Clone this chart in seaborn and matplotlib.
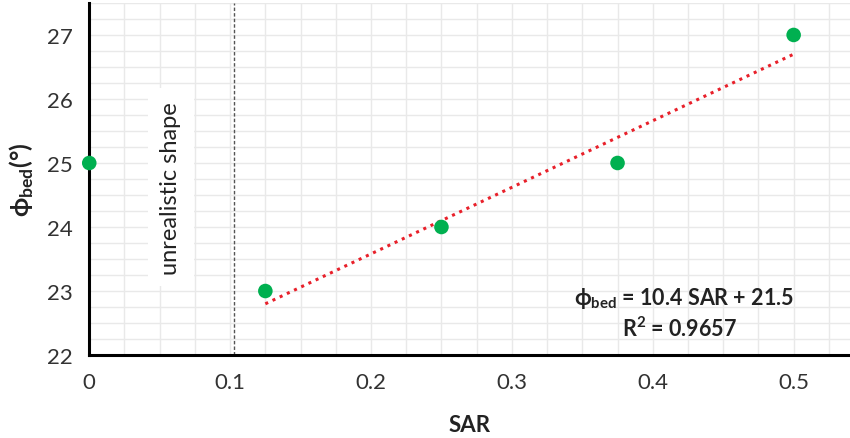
import numpy as np
import pandas as pd
import seaborn as sns
import matplotlib.pyplot as plt
from matplotlib.ticker import MultipleLocator

# data
sar = [0, 0.125, 0.25, 0.375, 0.5]
phi_bed = [25, 23, 24, 25, 27]
x_ticks = [0, 0.1, 0.2, 0.3, 0.4, 0.5]
x_tick_labels = ["0", "0.1", "0.2", "0.3", "0.4", "0.5"]
y_ticks = [22, 23, 24, 25, 26, 27]
limit_sar = 0.103

df = pd.DataFrame({"SAR": sar, "phi": phi_bed})
fit_df = df[df["SAR"] > limit_sar]

sns.set_style("white")
plt.rcParams["font.family"] = ["Lato", "DejaVu Sans"]
plt.rcParams["mathtext.fontset"] = "custom"
plt.rcParams["mathtext.rm"] = "Lato"
plt.rcParams["mathtext.bf"] = "Lato:bold"

fig = plt.figure(figsize=(8.5, 4.39), dpi=100)
ax = fig.add_axes([0.105, 0.189, 0.895, 0.802])

# grid
ax.xaxis.set_minor_locator(MultipleLocator(0.025))
ax.yaxis.set_minor_locator(MultipleLocator(0.25))
ax.grid(which="both", color="#e9e9e9", linewidth=1.0)
ax.set_axisbelow(True)

# trend line over the realistic points
sns.regplot(data=fit_df, x="SAR", y="phi", ax=ax, scatter=False, ci=None,
            line_kws={"color": "#e8202a", "linestyle": (0, (1, 1.6)), "linewidth": 2.2})

# points
sns.scatterplot(data=df, x="SAR", y="phi", ax=ax, color="#00b050", s=110,
                edgecolor="none", zorder=5, clip_on=False)

# limit line
ax.axvline(limit_sar, color="#555555", linestyle=(0, (2.5, 1.5)), linewidth=1.0)

ax.text(0.058, 24.62, "unrealistic shape", rotation=90, ha="center", va="center",
        fontsize=17, color="#222222",
        bbox=dict(facecolor="white", edgecolor="none", pad=9))

slope, intercept = np.polyfit(fit_df["SAR"], fit_df["phi"], 1)
r2 = np.corrcoef(fit_df["SAR"], fit_df["phi"])[0, 1] ** 2
ax.text(0.5, 22.9, "ϕ$_{\\mathbf{bed}}$ = %.1f SAR + %.1f" % (slope, intercept),
        ha="right", va="center", fontsize=15.5, fontweight="bold", color="#222222")
ax.text(0.46, 22.42, "R$^{\\mathbf{2}}$ = %.4f" % r2,
        ha="right", va="center", fontsize=15.5, fontweight="bold", color="#222222")

ax.set_xlim(0, 0.54)
ax.set_ylim(22, 27.5)
ax.set_xticks(x_ticks)
ax.set_xticklabels(x_tick_labels)
ax.set_yticks(y_ticks)
ax.tick_params(axis="both", which="both", length=0, labelsize=16, colors="#333333", pad=12)

for side in ["top", "right"]:
    ax.spines[side].set_visible(False)
for side in ["left", "bottom"]:
    ax.spines[side].set_color("black")
    ax.spines[side].set_linewidth(2.2)

ax.set_xlabel("SAR", fontsize=16, fontweight="bold", color="#222222", labelpad=16)
ax.set_ylabel("ϕ$_{\\mathbf{bed}}$(°)", fontsize=18, fontweight="bold", color="#222222", labelpad=8)

plt.savefig("out.png", dpi=100)
